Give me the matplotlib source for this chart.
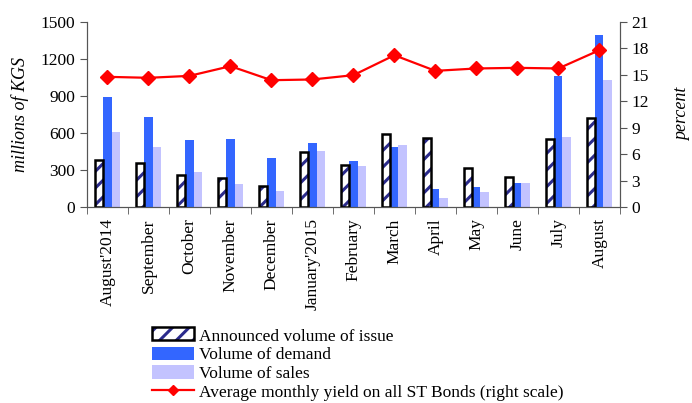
import matplotlib
matplotlib.use("Agg")
import matplotlib.pyplot as plt
import matplotlib.lines as mlines
import matplotlib.patches as mpatches
from matplotlib.legend_handler import HandlerBase
import numpy as np

months = ["August'2014", "September", "October", "November", "December",
          "January'2015", "February", "March", "April", "May", "June",
          "July", "August"]
announced = [382, 355, 261, 239, 175, 444, 342, 592, 563, 320, 245, 552, 719]
demand = [894, 730, 544, 550, 396, 517, 374, 490, 148, 167, 196, 1059, 1393]
sales = [611, 490, 288, 188, 132, 455, 333, 504, 78, 121, 196, 568, 1028]
yield_pct = [14.78, 14.67, 14.89, 15.99, 14.40, 14.48, 14.97, 17.23,
             15.46, 15.73, 15.80, 15.73, 17.80]

plt.rcParams['font.family'] = ['Liberation Serif', 'DejaVu Serif']
plt.rcParams['hatch.linewidth'] = 2.2

NAVY = '#2B2B8C'
BLUE = '#3366FF'
LAV = '#C3C3FF'
RED = '#FF0000'

fig = plt.figure(figsize=(6.92, 4.03), dpi=100)
ax = fig.add_axes([0.1257, 0.486, 0.770, 0.4594])
ax2 = ax.twinx()

x = np.arange(len(months))
w = 0.2
# hatch drawn in navy, then the black outline on top
ax.bar(x - w, announced, w, color='white', edgecolor=NAVY, linewidth=0,
       hatch='//', zorder=3)
ax.bar(x - w, announced, w, fill=False, edgecolor='black', linewidth=1.8,
       zorder=4)
ax.bar(x, demand, w, color=BLUE, zorder=2)
ax.bar(x + w, sales, w, color=LAV, zorder=2)

ax2.plot(x, yield_pct, color=RED, lw=1.6, marker='D', ms=7,
         markeredgecolor=RED)

ax.set_xlim(-0.5, len(months) - 0.5)
ax.set_ylim(0, 1500)
ax.set_yticks(range(0, 1501, 300))
ax2.set_ylim(0, 21)
ax2.set_yticks(range(0, 22, 3))

ax.set_xticks(x)
ax.set_xticklabels(months, rotation=90, fontsize=12.5)
ax.set_xticks(np.arange(-0.5, len(months), 1), minor=True)
ax.tick_params(axis='x', which='major', length=0, pad=8)
ax.tick_params(axis='x', which='minor', length=5, color='#555555')
ax.tick_params(axis='y', labelsize=12.5, length=5, color='#555555')
ax2.tick_params(axis='y', labelsize=12.5, length=5, color='#555555')

for a in (ax, ax2):
    a.spines['top'].set_visible(False)
    for s in ('left', 'right', 'bottom'):
        a.spines[s].set_color('#555555')

ax.set_ylabel('millions of KGS', fontsize=13, style='italic', labelpad=8)
ax2.set_ylabel('percent', fontsize=13, style='italic', rotation=90, labelpad=18)


class HatchHandler(HandlerBase):
    def create_artists(self, legend, orig, xd, yd, width, height, fontsize, trans):
        p1 = mpatches.Rectangle((xd, yd), width, height, facecolor='white',
                                edgecolor=NAVY, linewidth=0, hatch='//',
                                transform=trans)
        p2 = mpatches.Rectangle((xd, yd), width, height, fill=False,
                                edgecolor='black', linewidth=1.8, transform=trans)
        return [p1, p2]


ann_handle = mpatches.Patch(facecolor='white')
handles = [
    ann_handle,
    mpatches.Patch(facecolor=BLUE),
    mpatches.Patch(facecolor=LAV),
    mlines.Line2D([], [], color=RED, lw=1.6, marker='D', ms=5),
]
labels = ['Announced volume of issue', 'Volume of demand', 'Volume of sales',
          'Average monthly yield on all ST Bonds (right scale)']
fig.legend(handles, labels, loc='upper left', bbox_to_anchor=(0.2065, 0.208),
           frameon=False, fontsize=12.5, handlelength=2.45, handleheight=0.8,
           handletextpad=0.3, labelspacing=0.12, borderpad=0,
           handler_map={ann_handle: HatchHandler()})

fig.savefig('out.png', dpi=100)
